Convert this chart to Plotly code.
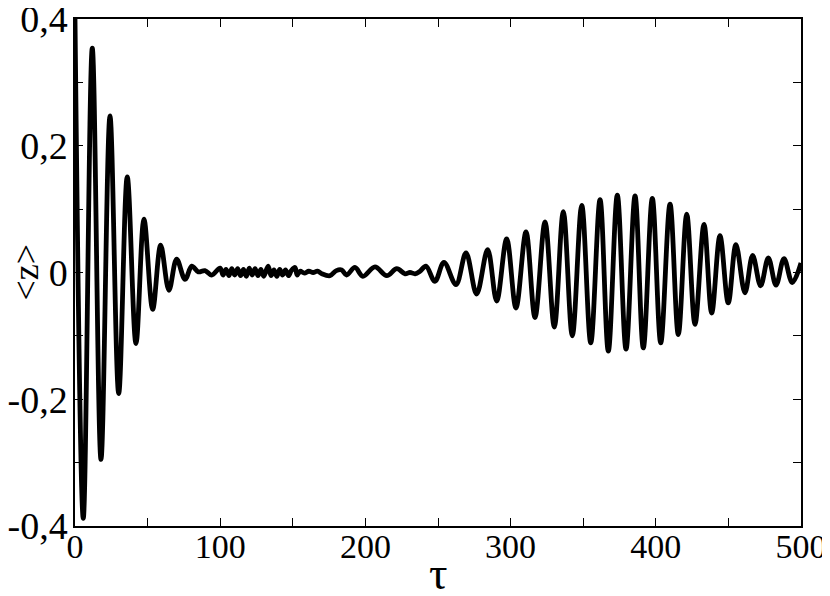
import plotly.graph_objects as go

# Values (extrema and small wiggles of <z>(tau))
tau = [0.0, 5.7, 11.9, 17.9, 24.1, 30.1, 36.0, 42.0, 47.5, 53.5, 59.0, 64.7, 70.0,
       75.8, 80.4, 84.9, 89.5, 94.1, 99.9,
       102.0, 104.0, 106.0, 108.0, 110.0, 112.0, 114.0, 116.0, 118.0, 120.0,
       122.0, 124.0, 126.0, 128.0, 130.0, 133.0, 135.0, 137.0, 139.0, 141.0,
       143.0, 145.0, 147.0, 149.0, 151.5, 153.0, 155.0, 158.0, 161.0, 164.0,
       167.0, 170.0, 175.6, 180.0, 183.7, 187.0, 192.8, 198.3, 206.6, 214.7,
       221.6, 227.3, 230.7, 234.2, 237.6,
       241.7, 247.9, 254.1, 262.4, 269.3, 276.6, 284.2, 290.4, 297.3, 303.7,
       310.6, 316.8, 323.7, 330.1, 336.3, 342.5, 349.0, 355.2, 361.6, 367.3,
       373.5, 379.5, 385.7, 391.4, 397.6, 403.4, 409.8, 415.5, 421.3, 427.0,
       433.2, 438.5, 444.2, 449.9, 455.2, 461.4, 466.7, 472.2, 477.5, 482.8,
       488.3, 494.0, 500.0]
z = [0.400, -0.388, 0.354, -0.295, 0.247, -0.191, 0.151, -0.112, 0.084, -0.058, 0.043, -0.028, 0.021,
     -0.011, 0.010, 0.001, 0.003, -0.004, 0.007,
     -0.004, 0.005, -0.005, 0.006, -0.004, 0.006, -0.005, 0.005, -0.006, 0.007,
     -0.004, 0.006, -0.005, 0.005, -0.006, 0.010, -0.005, 0.004, -0.006, 0.005,
     -0.004, 0.004, -0.005, 0.003, 0.008, -0.004, 0.002, -0.001, 0.002, 0.000,
     0.002, -0.002, -0.005, 0.003, 0.004, -0.004, 0.008, -0.006, 0.009, -0.005,
     0.006, -0.002, 0.000, -0.002, 0.002,
     0.010, -0.014, 0.016, -0.019, 0.031, -0.034, 0.036, -0.045, 0.053, -0.056,
     0.064, -0.071, 0.080, -0.086, 0.096, -0.100, 0.106, -0.111, 0.115, -0.124,
     0.122, -0.121, 0.121, -0.119, 0.117, -0.111, 0.108, -0.098, 0.092, -0.082,
     0.076, -0.064, 0.058, -0.048, 0.044, -0.032, 0.027, -0.021, 0.023, -0.020,
     0.022, -0.016, 0.015]

x_tickvals = [0, 100, 200, 300, 400, 500]
x_ticktext = ["0", "100", "200", "300", "400", "500"]
x_minor = [50, 150, 250, 350, 450]
y_tickvals = [-0.4, -0.2, 0, 0.2, 0.4]
y_ticktext = ["-0,4", "-0,2", "0", "0,2", "0,4"]
y_minor = [-0.3, -0.1, 0.1, 0.3]

x_title = "τ"
y_title = "&lt;z&gt;"

FONT = "Liberation Serif"

fig = go.Figure()
fig.add_trace(go.Scatter(
    x=tau, y=z, mode="lines",
    line=dict(color="black", width=4.8, shape="spline", smoothing=1.0),
    showlegend=False, hoverinfo="skip"))

axis_common = dict(
    showline=True, linecolor="black", linewidth=1.5, mirror="allticks",
    ticks="inside", ticklen=8, tickwidth=1.3, tickcolor="black",
    showgrid=False, zeroline=False, ticklabeloverflow="allow",
)

fig.update_xaxes(
    range=[0, 500], tickmode="array", tickvals=x_tickvals, ticktext=x_ticktext,
    tickfont=dict(family=FONT, size=34, color="black"), ticklabelstandoff=-11,
    minor=dict(tickmode="array", tickvals=x_minor, ticks="inside", ticklen=8,
               tickwidth=1.3, tickcolor="black", showgrid=False),
    **axis_common)
fig.update_yaxes(
    range=[-0.4, 0.4], tickmode="array", tickvals=y_tickvals, ticktext=y_ticktext,
    tickfont=dict(family=FONT, size=38, color="black"), ticklabelstandoff=-2,
    minor=dict(tickmode="array", tickvals=y_minor, ticks="inside", ticklen=8,
               tickwidth=1.3, tickcolor="black", showgrid=False),
    **axis_common)

fig.add_annotation(text=x_title, xref="paper", yref="paper", x=0.5, y=0,
                   xanchor="center", yanchor="middle", yshift=-47, showarrow=False,
                   font=dict(family=FONT, size=46, color="black"))
fig.add_annotation(text=y_title, xref="paper", yref="paper", x=0, y=0.5,
                   xanchor="center", yanchor="middle", xshift=-50, showarrow=False,
                   textangle=-90, font=dict(family=FONT, size=36, color="black"))

# page body adds an 8 px margin, so the figure is sized/placed to compensate
fig.update_layout(
    width=822, height=588,
    margin=dict(l=67, r=29, t=11, b=70, autoexpand=False),
    plot_bgcolor="white", paper_bgcolor="white",
    font=dict(family=FONT, color="black"),
)

fig.write_html("out.html")
